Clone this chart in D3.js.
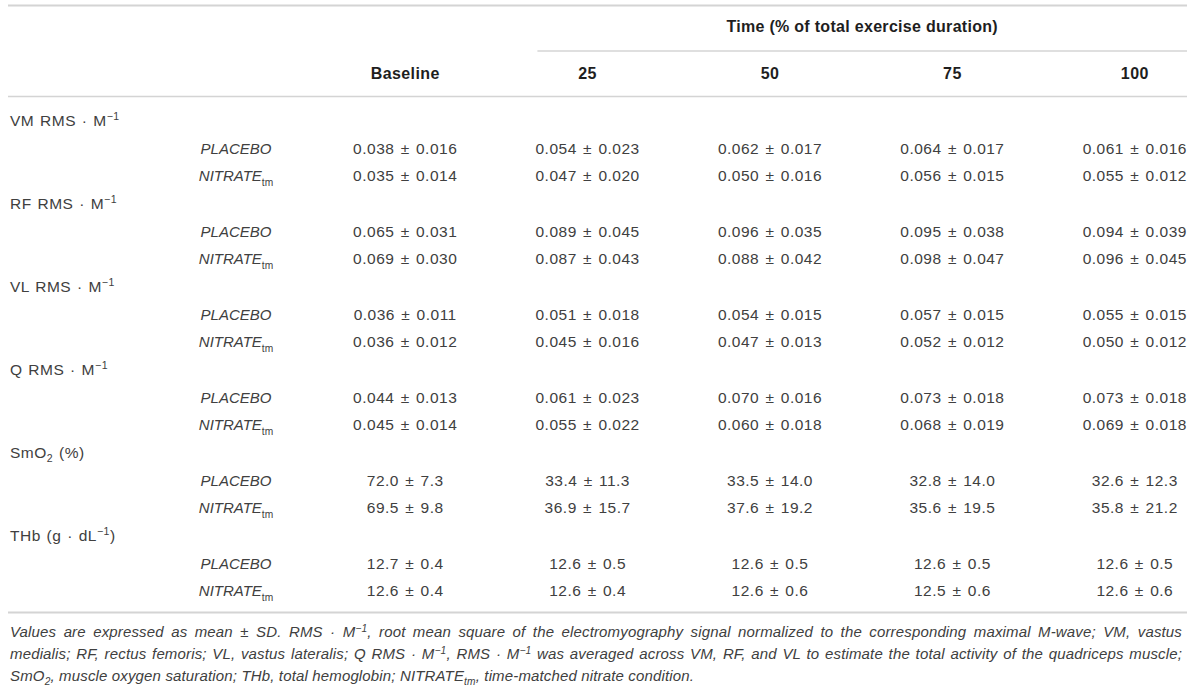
<!DOCTYPE html>
<html>
<head>
<meta charset="utf-8">
<script src="https://cdn.jsdelivr.net/npm/d3@7"></script>
<style>
  body { margin: 0; background: #fff; }
  svg { display: block; font-family: "Liberation Sans", Arial, sans-serif; }
</style>
</head>
<body>
<script>
const width = 1200;
const height = 690;

// table content
const columns = ["Baseline", "25", "50", "75", "100"];
const timeHeader = "Time (% of total exercise duration)";
const conditions = ["PLACEBO", "NITRATE_{tm}"];
const groups = ["VM RMS · M^{−1}", "RF RMS · M^{−1}", "VL RMS · M^{−1}", "Q RMS · M^{−1}", "SmO_{2} (%)", "THb (g · dL^{−1})"];
const decimals = [3, 3, 3, 3, 1, 1];

const vmMean = [[0.038, 0.054, 0.062, 0.064, 0.061], [0.035, 0.047, 0.050, 0.056, 0.055]];
const vmSD   = [[0.016, 0.023, 0.017, 0.017, 0.016], [0.014, 0.020, 0.016, 0.015, 0.012]];
const rfMean = [[0.065, 0.089, 0.096, 0.095, 0.094], [0.069, 0.087, 0.088, 0.098, 0.096]];
const rfSD   = [[0.031, 0.045, 0.035, 0.038, 0.039], [0.030, 0.043, 0.042, 0.047, 0.045]];
const vlMean = [[0.036, 0.051, 0.054, 0.057, 0.055], [0.036, 0.045, 0.047, 0.052, 0.050]];
const vlSD   = [[0.011, 0.018, 0.015, 0.015, 0.015], [0.012, 0.016, 0.013, 0.012, 0.012]];
const qMean  = [[0.044, 0.061, 0.070, 0.073, 0.073], [0.045, 0.055, 0.060, 0.068, 0.069]];
const qSD    = [[0.013, 0.023, 0.016, 0.018, 0.018], [0.014, 0.022, 0.018, 0.019, 0.018]];
const smo2Mean = [[72.0, 33.4, 33.5, 32.8, 32.6], [69.5, 36.9, 37.6, 35.6, 35.8]];
const smo2SD   = [[7.3, 11.3, 14.0, 14.0, 12.3], [9.8, 15.7, 19.2, 19.5, 21.2]];
const thbMean  = [[12.7, 12.6, 12.6, 12.6, 12.6], [12.6, 12.6, 12.6, 12.5, 12.6]];
const thbSD    = [[0.4, 0.5, 0.5, 0.5, 0.5], [0.4, 0.4, 0.6, 0.6, 0.6]];

const means = [vmMean, rfMean, vlMean, qMean, smo2Mean, thbMean];
const sds = [vmSD, rfSD, vlSD, qSD, smo2SD, thbSD];

const footnote = [
  "Values are expressed as mean ± SD. RMS · M^{−1}, root mean square of the electromyography signal normalized to the corresponding maximal M-wave; VM, vastus",
  "medialis; RF, rectus femoris; VL, vastus lateralis; Q RMS · M^{−1}, RMS · M^{−1} was averaged across VM, RF, and VL to estimate the total activity of the quadriceps muscle;",
  "SmO_{2}, muscle oxygen saturation; THb, total hemoglobin; NITRATE_{tm}, time-matched nitrate condition."
];

const svg = d3.select("body").append("svg")
  .attr("width", width)
  .attr("height", height);

const textColor = "#404040";
const headColor = "#1e1e1e";
const ruleColor = "#d4d4d4";
const fs = 15.5;

const x = d3.scaleBand().domain(columns).range([314, 1226]);
const xc = (c) => x(c) + x.bandwidth() / 2;
const condX = 236;
const labelX = 10;
const left = 8, right = 1187;

// rows: group label, placebo, nitrate
const nRows = groups.length * 3;
const y = d3.scaleLinear().domain([0, nRows - 1]).range([126, 126 + (nRows - 1) * 27.67]);

// writes text with ^{sup} and _{sub} into tspans
function rich(sel, str, size, subStyle) {
  const parts = str.split(/(\^\{[^}]*\}|_\{[^}]*\})/);
  let cur = 0;
  parts.forEach(function(p) {
    if (!p) return;
    let target = 0, txt = p, small = false;
    if (p.startsWith("^{")) { target = -0.36 * size; txt = p.slice(2, -1); small = true; }
    else if (p.startsWith("_{")) { target = 0.28 * size; txt = p.slice(2, -1); small = true; }
    const t = sel.append("tspan").attr("dy", target - cur).text(txt);
    if (small) {
      t.attr("font-size", size * 0.68);
      if (subStyle) t.attr("font-style", subStyle);
    }
    cur = target;
  });
}

function rule(y0, x0, x1, w) {
  svg.append("line")
    .attr("x1", x0).attr("x2", x1)
    .attr("y1", y0).attr("y2", y0)
    .attr("stroke", ruleColor)
    .attr("stroke-width", w);
}

// rules
rule(5.5, left, right, 2);
rule(51, x("25") + 41, right, 1.5);
rule(96.5, left, right, 1.5);
rule(612.5, left, right, 2);

// header
svg.append("text")
  .attr("x", (x("25") + 41 + right) / 2)
  .attr("y", 32)
  .attr("text-anchor", "middle")
  .attr("font-size", 16)
  .attr("font-weight", "bold")
  .attr("letter-spacing", 0.3)
  .attr("fill", headColor)
  .text(timeHeader);

svg.selectAll(".colhead")
  .data(columns)
  .enter()
  .append("text")
    .attr("class", "colhead")
    .attr("x", (d) => xc(d))
    .attr("y", 79)
    .attr("text-anchor", "middle")
    .attr("font-size", 16)
    .attr("font-weight", "bold")
    .attr("letter-spacing", 0.4)
    .attr("fill", headColor)
    .text((d) => d);

// body
groups.forEach(function(g, gi) {
  const gl = svg.append("text")
    .attr("x", labelX)
    .attr("y", y(gi * 3))
    .attr("font-size", fs)
    .attr("letter-spacing", 0.5)
    .attr("word-spacing", 1)
    .attr("fill", textColor);
  rich(gl, g, fs);

  conditions.forEach(function(c, ci) {
    const row = gi * 3 + ci + 1;
    const cl = svg.append("text")
      .attr("x", condX)
      .attr("y", y(row))
      .attr("text-anchor", "middle")
      .attr("font-size", 15)
      .attr("font-style", "italic")
      .attr("fill", textColor);
    rich(cl, c, 15, "normal");

    const fmt = d3.format("." + decimals[gi] + "f");
    svg.selectAll(".cell-" + row)
      .data(columns)
      .enter()
      .append("text")
        .attr("class", "cell-" + row)
        .attr("x", (d) => xc(d))
        .attr("y", y(row))
        .attr("text-anchor", "middle")
        .attr("font-size", fs)
        .attr("fill", textColor)
        .attr("letter-spacing", 0.5)
        .attr("word-spacing", 1.5)
        .text((d, i) => fmt(means[gi][ci][i]) + " ± " + fmt(sds[gi][ci][i]));
  });
});

// footnote, first two lines justified
footnote.forEach(function(line, i) {
  const t = svg.append("text")
    .attr("x", 10)
    .attr("y", 637 + i * 22)
    .attr("font-size", 15)
    .attr("font-style", "italic")
    .attr("letter-spacing", 0.15)
    .attr("fill", textColor);
  rich(t, line, 15);
  if (i < footnote.length - 1) {
    const w = t.node().getComputedTextLength();
    const spaces = line.split(" ").length - 1;
    t.attr("word-spacing", (1182 - 10 - w) / spaces);
  }
});
</script>
</body>
</html>
